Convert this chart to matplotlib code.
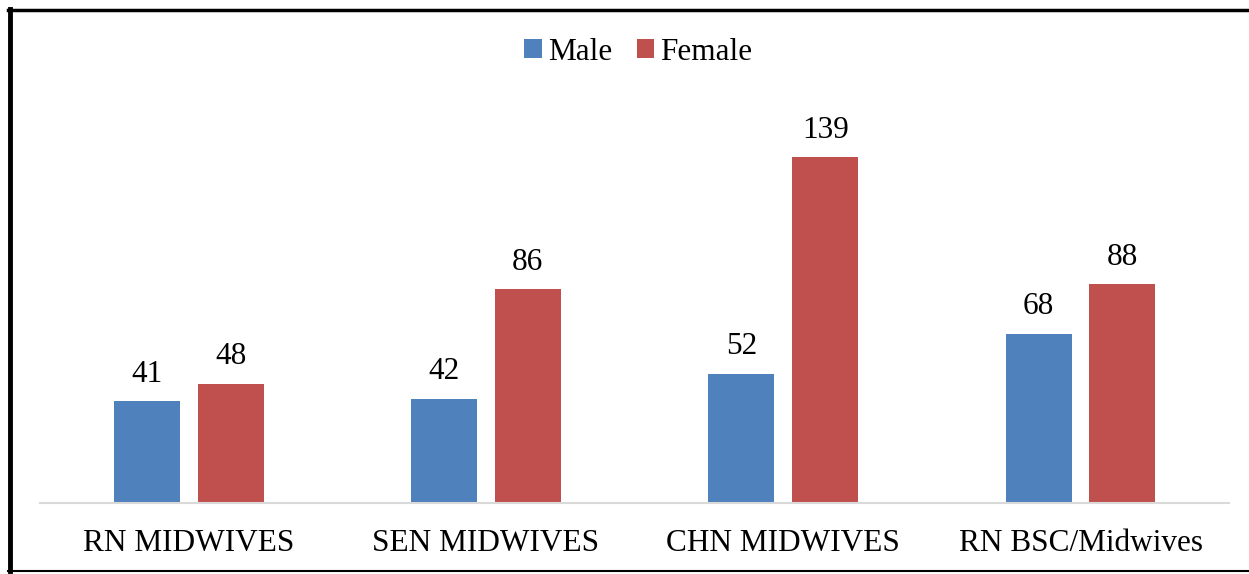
import numpy as np
import matplotlib.pyplot as plt
from matplotlib.lines import Line2D

categories = ['RN MIDWIVES', 'SEN MIDWIVES', 'CHN MIDWIVES', 'RN BSC/Midwives']
male = [41, 42, 52, 68]
female = [48, 86, 139, 88]

plt.rcParams['font.family'] = ['Liberation Serif', 'DejaVu Serif']

fig = plt.figure(figsize=(12.49, 5.74), dpi=100)
ax = fig.add_axes([40 / 1249, 1 - 503 / 574, (1228.6 - 39.4) / 1249, (503 - 105) / 574])

x = np.arange(len(categories))
w = 0.222
off = 0.141
b1 = ax.bar(x - off, male, w, color='#4F81BD', label='Male')
b2 = ax.bar(x + off, female, w, color='#C0504D', label='Female')

# etykiety wartosci nad slupkami
for bars in (b1, b2):
    for b in bars:
        ax.annotate(str(int(b.get_height())), (b.get_x() + b.get_width() / 2, b.get_height()),
                    xytext=(0, 9), textcoords='offset points', ha='center', va='bottom',
                    fontsize=22.5)

ax.set_xlim(-0.5, 3.5)
ax.set_ylim(0, 160)
ax.set_xticks(x)
ax.set_xticklabels(categories, fontsize=22.5)
ax.tick_params(axis='x', length=0, pad=18.5)
ax.set_yticks([])
for s in ['top', 'right', 'left']:
    ax.spines[s].set_visible(False)
ax.spines['bottom'].set_color('#D9D9D9')
ax.spines['bottom'].set_linewidth(1.5)

fig.legend(handles=[b1, b2], loc='center', bbox_to_anchor=(638.5 / 1249, 1 - 52 / 574), ncol=2,
           frameon=False, fontsize=22.5, handlelength=0.55, handleheight=0.55,
           handletextpad=0.2, columnspacing=0.8)

# ramka obrazka
fig.add_artist(Line2D([10 / 1249, 10 / 1249], [1 - 9 / 574, 1 - 571 / 574], color='black', lw=3.5,
                      transform=fig.transFigure))
fig.add_artist(Line2D([8 / 1249, 1], [1 - 9.5 / 574, 1 - 9.5 / 574], color='black', lw=2.5,
                      transform=fig.transFigure))
fig.add_artist(Line2D([8 / 1249, 1], [1 - 571 / 574, 1 - 571 / 574], color='black', lw=1.5,
                      transform=fig.transFigure))

plt.savefig('out.png', dpi=100)
